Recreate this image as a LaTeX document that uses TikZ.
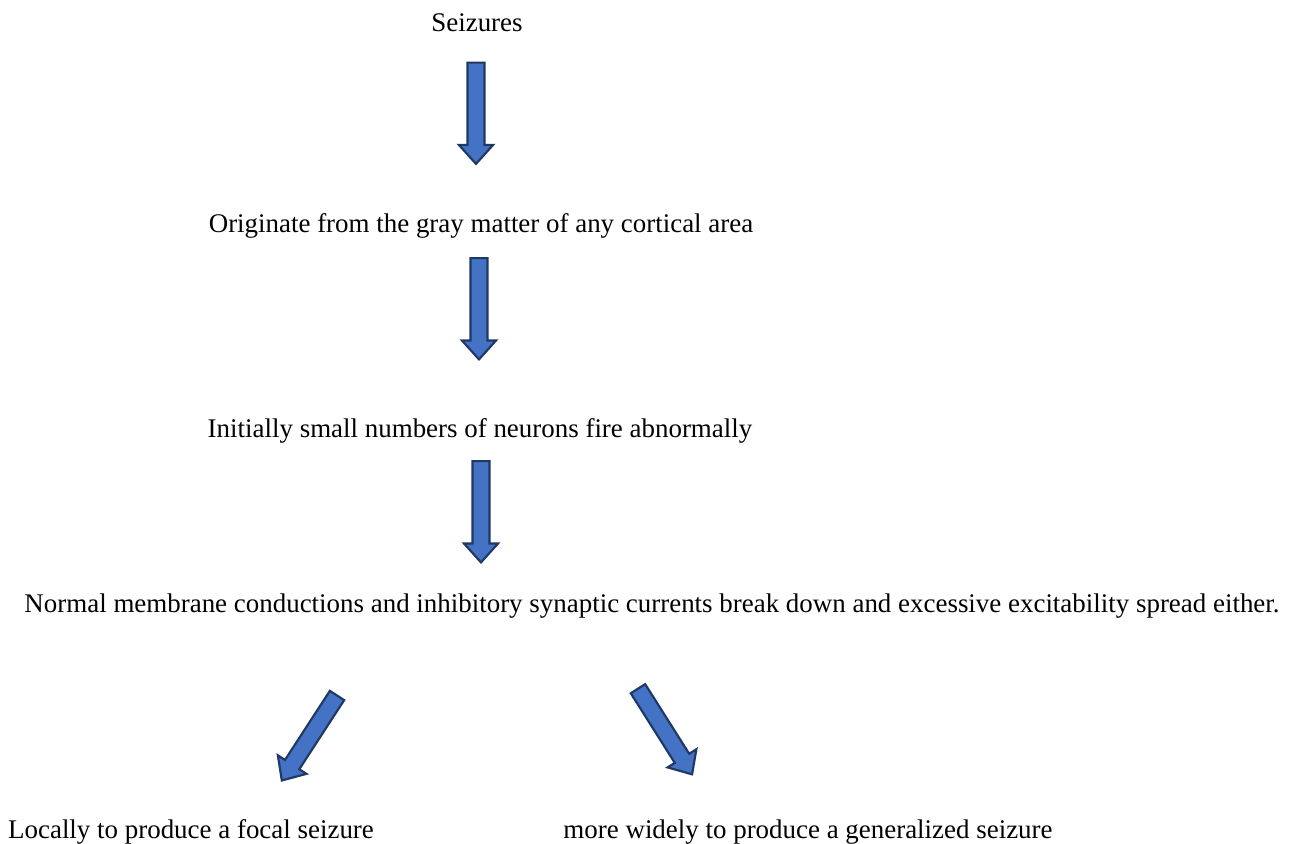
\documentclass[tikz,border=0pt]{standalone}
\usepackage{fontspec}
\setmainfont{Liberation Serif}
\usetikzlibrary{shapes.arrows}
\definecolor{arrfill}{RGB}{68,114,196}
\definecolor{arrline}{RGB}{31,56,100}
\tikzset{
	txt/.style={inner sep=0pt,font=\fontsize{20.2}{24}\selectfont},
	blockarr/.style={single arrow,draw=arrline,fill=arrfill,line width=1.6pt,
		minimum height=76pt,minimum width=24pt,inner sep=5.6pt,
		single arrow head extend=6.4pt,single arrow tip angle=84},
}
\begin{document}
\begin{tikzpicture}[x=0.75pt,y=-0.75pt]
		\useasboundingbox(0,0)rectangle(1289,843);
		\node[txt](seiz)at(477,23){Seizures};
		\node[blockarr,rotate=-90](a1)at(476,108.5){};
		\node[txt](origin)at(481,226){Originate from the gray matter of any cortical area};
		\node[blockarr,rotate=-90](a2)at(479,304){};
		\node[txt](initial)at(480,431){Initially small numbers of neurons fire abnormally};
		\node[blockarr,rotate=-90](a3)at(481,507){};
		\node[txt](normal)at(652,606){Normal membrane conductions and inhibitory synaptic currents break down and excessive excitability spread either.};
		\node[blockarr,rotate=-123](aleft)at(312,734){};
		\node[blockarr,rotate=-57.7](aright)at(662.5,727.5){};
		\node[txt](focal)at(191,832){Locally to produce a focal seizure};
		\node[txt](general)at(808,832){more widely to produce a generalized seizure};
	    \end{tikzpicture}
\end{document}
